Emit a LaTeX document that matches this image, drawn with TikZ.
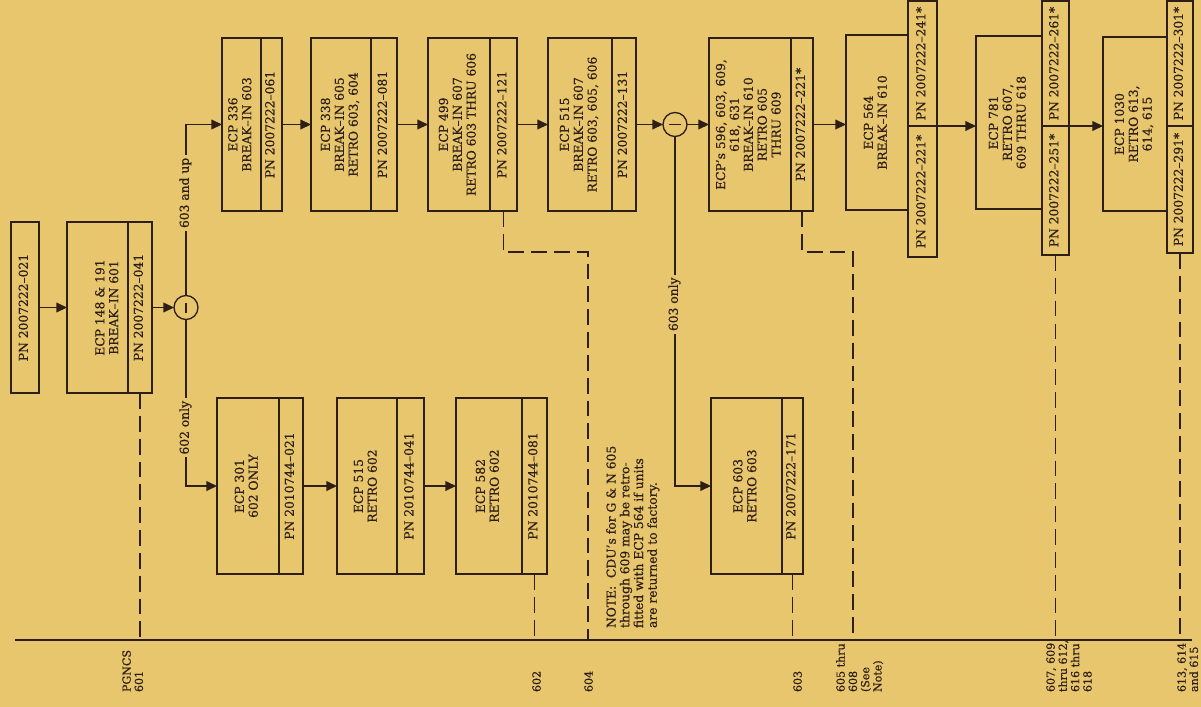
\documentclass[tikz,border=0pt]{standalone}
\usepackage{fontspec}
\setmainfont{DejaVu Serif}[FakeBold=0.5]
\usepackage{graphicx}
\usetikzlibrary{arrows.meta}
\definecolor{paper}{RGB}{232,198,110}
\definecolor{ink}{RGB}{45,30,22}
\newcommand{\rtxt}[1]{\rotatebox{90}{\fontsize{7}{7.9}\selectfont\begin{tabular}{@{}c@{}}#1\end{tabular}}}
\newcommand{\rlab}[1]{\rotatebox{90}{\fontsize{6.3}{7}\selectfont\begin{tabular}{@{}l@{}}#1\end{tabular}}}
\newcommand{\rnote}[1]{\rotatebox{90}{\fontsize{7}{7.8}\selectfont\begin{tabular}{@{}l@{}}#1\end{tabular}}}
\tikzset{
  bx/.style={draw=ink, rectangle, inner sep=0pt, outer sep=0pt, line width=0.75pt},
  sz/.style 2 args={minimum width=#1*0.02cm, minimum height=#2*0.02cm},
  arr/.style={-{Triangle[length=6pt,width=5.5pt]}, line width=0.75pt, draw=ink},
  dsh/.style={dash pattern=on 9pt off 4pt, line width=0.85pt, draw=ink},
  lbl/.style={fill=paper, inner sep=1.5pt},
  circ/.style={circle, draw=ink, line width=0.75pt, minimum size=24*0.02cm, inner sep=0pt, outer sep=0pt},
  tx/.style={inner sep=0pt, outer sep=0pt}
}
\begin{document}
\begin{tikzpicture}[x=0.02cm, y=-0.02cm, color=ink]
\fill[paper] (0,0) rectangle (1201,707);
\useasboundingbox (0,0) rectangle (1201,707);

% baseline
\coordinate (base) at (15,640);
\coordinate (baseE) at (1192,640);
\coordinate (k604) at (588,640);
\coordinate (k605) at (853,640);
\draw[line width=0.85pt] (base) -- (baseE);

% first boxes
\node[bx,sz={28}{171}] (b0) at (25,307.5) {\rtxt{PN 2007222--021}};
\node[bx,sz={61}{171}] (b1) at (97.5,307.5) {};
\node[tx] (b1t) at ([xshift=0.22cm]b1.center) {\rtxt{ECP 148 \& 191\\BREAK--IN 601}};
\node[bx,sz={24}{171},anchor=west] (b1p) at (b1.east) {\rtxt{PN 2007222--041}};
\node[circ] (c1) at (186,307.5) {};
\draw[line width=0.75pt] (c1.center) ++(0,-5) -- ++(0,10);

% top row
\node[bx,sz={39}{173}] (t1) at (241.5,124.5) {\rtxt{ECP 336\\BREAK--IN 603}};
\node[bx,sz={21}{173},anchor=west] (t1p) at (t1.east) {\rtxt{PN 2007222--061}};
\node[bx,sz={60}{173}] (t2) at (341,124.5) {\rtxt{ECP 338\\BREAK--IN 605\\RETRO 603, 604}};
\node[bx,sz={26}{173},anchor=west] (t2p) at (t2.east) {\rtxt{PN 2007222--081}};
\node[bx,sz={62}{173}] (t3) at (459,124.5) {\rtxt{ECP 499\\BREAK--IN 607\\RETRO 603 THRU 606}};
\node[bx,sz={27}{173},anchor=west] (t3p) at (t3.east) {\rtxt{PN 2007222--121}};
\node[bx,sz={64}{173}] (t4) at (580,124.5) {\rtxt{ECP 515\\BREAK--IN 607\\RETRO 603, 605, 606}};
\node[bx,sz={24}{173},anchor=west] (t4p) at (t4.east) {\rtxt{PN 2007222--131}};
\node[circ] (c2) at (675,124.5) {};
\draw[line width=0.75pt] (c2.center) ++(-6,0) -- ++(12,0);
\node[bx,sz={82}{173}] (t5) at (750,124.5) {\rtxt{ECP's 596, 603, 609,\\618, 631\\BREAK--IN 610\\RETRO 605\\THRU 609}};
\node[bx,sz={22}{173},anchor=west] (t5p) at (t5.east) {\rtxt{PN 2007222--221*}};

\node[bx,sz={62}{175}] (t6) at (877,122.5) {\rtxt{ECP 564\\BREAK--IN 610}};
\node[bx,sz={29}{125}] (t6u) at (922.5,63.5) {\rtxt{PN 2007222--241*}};
\node[bx,sz={29}{131}] (t6l) at (922.5,191.5) {\rtxt{PN 2007222--221*}};
\node[bx,sz={66}{173}] (t7) at (1009,122.5) {\rtxt{ECP 781\\RETRO 607,\\609 THRU 618}};
\node[bx,sz={27}{125}] (t7u) at (1055.5,63.5) {\rtxt{PN 2007222--261*}};
\node[bx,sz={27}{129}] (t7l) at (1055.5,190.5) {\rtxt{PN 2007222--251*}};
\node[bx,sz={64}{174}] (t8) at (1135,124) {\rtxt{ECP 1030\\RETRO 613,\\614, 615}};
\node[bx,sz={26}{125}] (t8u) at (1180,63.5) {\rtxt{PN 2007222--301*}};
\node[bx,sz={26}{127}] (t8l) at (1180,189.5) {\rtxt{PN 2007222--291*}};

% bottom row
\node[bx,sz={62}{176}] (l1) at (248,486) {\rtxt{ECP 301\\602 ONLY}};
\node[bx,sz={24}{176},anchor=west] (l1p) at (l1.east) {\rtxt{PN 2010744--021}};
\node[bx,sz={60}{176}] (l2) at (367,486) {\rtxt{ECP 515\\RETRO 602}};
\node[bx,sz={27}{176},anchor=west] (l2p) at (l2.east) {\rtxt{PN 2010744--041}};
\node[bx,sz={66}{176}] (l3) at (489,486) {\rtxt{ECP 582\\RETRO 602}};
\node[bx,sz={25}{176},anchor=west] (l3p) at (l3.east) {\rtxt{PN 2010744--081}};
\node[bx,sz={71}{176}] (m) at (746.5,486) {\rtxt{ECP 603\\RETRO 603}};
\node[bx,sz={21}{176},anchor=west] (mp) at (m.east) {\rtxt{PN 2007222--171}};

% connectors
\draw[arr] (b0.east) -- (b1.west);
\draw[arr] (b1p.east) -- (c1.west);
\draw[arr] (c1.north) -- node[lbl,pos=0.6] (lab1) {\rtxt{603 and up}} (c1.north |- t1.west) -- (t1.west);
\draw[arr] (c1.south) -- node[lbl,pos=0.65] (lab2) {\rtxt{602 only}} (c1.south |- l1.west) -- (l1.west);
\draw[arr] (t1p.east) -- (t2.west);
\draw[arr] (t2p.east) -- (t3.west);
\draw[arr] (t3p.east) -- (t4.west);
\draw[arr] (t4p.east) -- (c2.west);
\draw[arr] (c2.east) -- (t5.west);
\draw[arr] (c2.south) -- node[lbl,pos=0.48] (lab3) {\rtxt{603 only}} (c2.south |- m.west) -- (m.west);
\draw[arr] (t5p.east) -- (t5p.east -| t6.west);
\draw[arr] (t6u.south east) -- (t6u.south east -| t7.west);
\draw[arr] (t7u.south east) -- (t7u.south east -| t8.west);
\draw[arr] (l1p.east) -- (l2.west);
\draw[arr] (l2p.east) -- (l3.west);

% dashed
\draw[dsh] (b1p.south) -- (b1p.south |- base);
\draw[dsh] (l3p.south) -- (l3p.south |- base);
\draw[dsh] (t3p.south) -- ++(0,41) -| (k604);
\draw[dsh] (t5p.south) -- ++(0,41) -| (k605);
\draw[dsh] (mp.south) -- (mp.south |- base);
\draw[dsh] (t7l.south) -- (t7l.south |- base);
\draw[dsh] (t8l.south) -- (t8l.south |- base);

% note
\node[tx,anchor=south west] (note) at (606,628) {\rnote{NOTE:\ \ CDU's for G \& N 605\\through 609 may be retro-\\fitted with ECP 564 if units\\are returned to factory.}};

% baseline labels
\node[tx,anchor=south west] (g1) at (122,692) {\rlab{PGNCS\\601}};
\node[tx,anchor=south west] (g2) at (532,692) {\rlab{602}};
\node[tx,anchor=south west] (g3) at (584,692) {\rlab{604}};
\node[tx,anchor=south west] (g4) at (793,692) {\rlab{603}};
\node[tx,anchor=south west] (g5) at (836,692) {\rlab{605 thru\\608\\(See\\Note)}};
\node[tx,anchor=south west] (g6) at (1046,692) {\rlab{607, 609\\thru 612,\\616 thru\\618}};
\node[tx,anchor=south west] (g7) at (1177,692) {\rlab{613, 614\\and 615}};
\end{tikzpicture}
\end{document}
